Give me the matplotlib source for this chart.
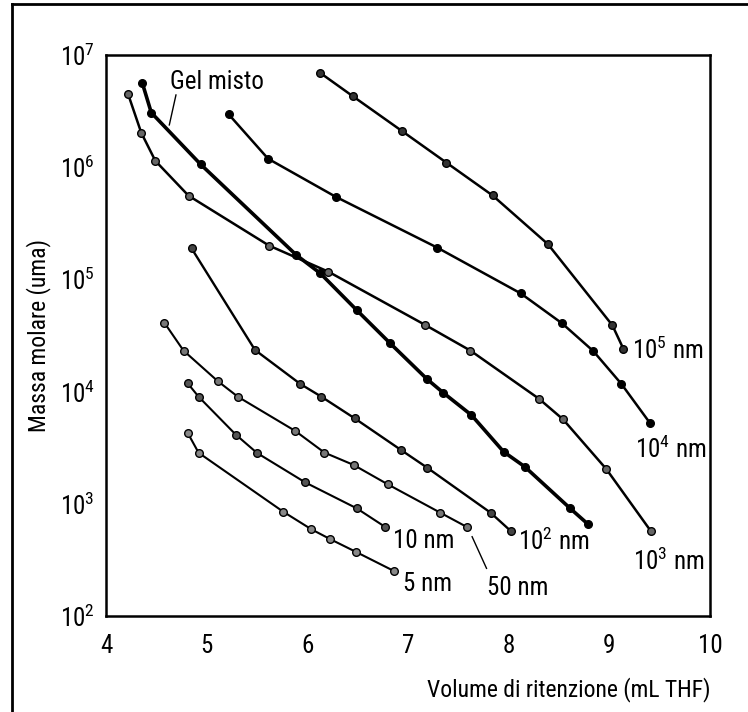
import matplotlib
matplotlib.use("Agg")
import matplotlib.pyplot as plt
from matplotlib.lines import Line2D

FONT = 'Roboto Condensed'
plt.rcParams['font.family'] = [FONT, 'DejaVu Sans']
plt.rcParams['mathtext.fontset'] = 'custom'
plt.rcParams['mathtext.rm'] = FONT
plt.rcParams['mathtext.it'] = FONT
plt.rcParams['mathtext.bf'] = FONT

# dati (volume in mL, massa molare in uma)
v_1e5 = [6.13, 6.45, 6.94, 7.38, 7.84, 8.39, 9.03, 9.14]
m_1e5 = [6.9e6, 4.3e6, 2.1e6, 1.1e6, 5.6e5, 2.06e5, 3.9e4, 2.4e4]

v_1e4 = [5.22, 5.61, 6.28, 7.29, 8.12, 8.53, 8.84, 9.12, 9.40]
m_1e4 = [2.95e6, 1.19e6, 5.46e5, 1.92e5, 7.5e4, 4.06e4, 2.3e4, 1.17e4, 5.3e3]

v_1e3 = [4.22, 4.35, 4.49, 4.82, 5.62, 6.21, 7.17, 7.62, 8.30, 8.54, 8.97, 9.41]
m_1e3 = [4.47e6, 2.03e6, 1.14e6, 5.57e5, 2.0e5, 1.17e5, 3.93e4, 2.32e4, 8.65e3, 5.66e3, 2.04e3, 575]

v_gel = [4.36, 4.45, 4.94, 5.89, 6.13, 6.49, 6.82, 7.19, 7.35, 7.63, 7.95, 8.16, 8.61, 8.79]
m_gel = [5.66e6, 3.06e6, 1.06e6, 1.65e5, 1.13e5, 5.33e4, 2.71e4, 1.29e4, 9.77e3, 6.18e3, 2.91e3, 2.14e3, 912, 656]

v_1e2 = [4.85, 5.48, 5.93, 6.14, 6.47, 6.93, 7.19, 7.82, 8.02]
m_1e2 = [1.89e5, 2.35e4, 1.17e4, 9.0e3, 5.78e3, 3.02e3, 2.10e3, 834, 573]

v_50 = [4.58, 4.77, 5.11, 5.31, 5.88, 6.17, 6.46, 6.80, 7.32, 7.59]
m_50 = [4.11e4, 2.32e4, 1.24e4, 9.0e3, 4.46e3, 2.86e3, 2.22e3, 1.49e3, 834, 618]

v_10 = [4.81, 4.92, 5.29, 5.50, 5.98, 6.49, 6.77]
m_10 = [1.19e4, 9.0e3, 4.13e3, 2.84e3, 1.55e3, 912, 625]

v_5 = [4.81, 4.92, 5.76, 6.04, 6.23, 6.48, 6.86]
m_5 = [4.31e3, 2.85e3, 851, 593, 483, 374, 252]

x_ticks = [4, 5, 6, 7, 8, 9, 10]
y_ticks = [1e2, 1e3, 1e4, 1e5, 1e6, 1e7]
y_ticklabels = [r'$10^{2}$', r'$10^{3}$', r'$10^{4}$', r'$10^{5}$', r'$10^{6}$', r'$10^{7}$']

# (x, y, lw, colore interno marker)
series = [
    (v_1e5, m_1e5, 1.8, '#333333'),
    (v_1e4, m_1e4, 1.8, 'black'),
    (v_1e3, m_1e3, 1.8, '#666666'),
    (v_gel, m_gel, 2.6, 'black'),
    (v_1e2, m_1e2, 1.7, '#444444'),
    (v_50, m_50, 1.5, '#777777'),
    (v_10, m_10, 1.5, '#555555'),
    (v_5, m_5, 1.5, '#888888'),
]

fig = plt.figure(figsize=(7.48, 7.12), dpi=100)
ax = fig.add_axes([0.1417, 0.1348, 0.8075, 0.788])

for x, y, lw, fc in series:
    ax.plot(x, y, '-', color='black', lw=lw, marker='o', ms=5.5,
            mfc=fc, mec='black', mew=1.0)

ax.set_yscale('log')
ax.set_xlim(4, 10)
ax.set_ylim(1e2, 1e7)
ax.set_xticks(x_ticks)
ax.set_xticklabels([str(t) for t in x_ticks])
ax.set_yticks(y_ticks)
ax.set_yticklabels(y_ticklabels)
ax.minorticks_off()
ax.tick_params(axis='both', length=0, labelsize=18)
ax.tick_params(axis='x', pad=13)
ax.tick_params(axis='y', pad=8)
for s in ax.spines.values():
    s.set_linewidth(1.8)

ax.set_xlabel('Volume di ritenzione (mL THF)', fontsize=17, loc='right', labelpad=14)
ax.set_ylabel('Massa molare (uma)', fontsize=17, labelpad=6)

# etichette delle curve
labels = [
    (9.225, 2.35e4, r'$10^{5}$ nm'),
    (9.255, 3.02e3, r'$10^{4}$ nm'),
    (9.235, 309, r'$10^{3}$ nm'),
    (8.093, 466, r'$10^{2}$ nm'),
    (6.851, 466, '10 nm'),
    (6.950, 193, '5 nm'),
    (7.785, 178, '50 nm'),
    (4.636, 5.74e6, 'Gel misto'),
]
for lx, ly, txt in labels:
    ax.text(lx, ly, txt, fontsize=18, ha='left', va='center')

ax.plot([7.637, 7.780], [509, 266], color='black', lw=1.0)
ax.plot([4.695, 4.629], [4.4e6, 2.38e6], color='black', lw=1.0)

# cornice esterna
fig.add_artist(Line2D([0.016, 0.016], [0.0, 0.9944], color='black', lw=2.0))
fig.add_artist(Line2D([0.016, 1.0], [0.9944, 0.9944], color='black', lw=2.0))

fig.savefig('out.png', dpi=100)
